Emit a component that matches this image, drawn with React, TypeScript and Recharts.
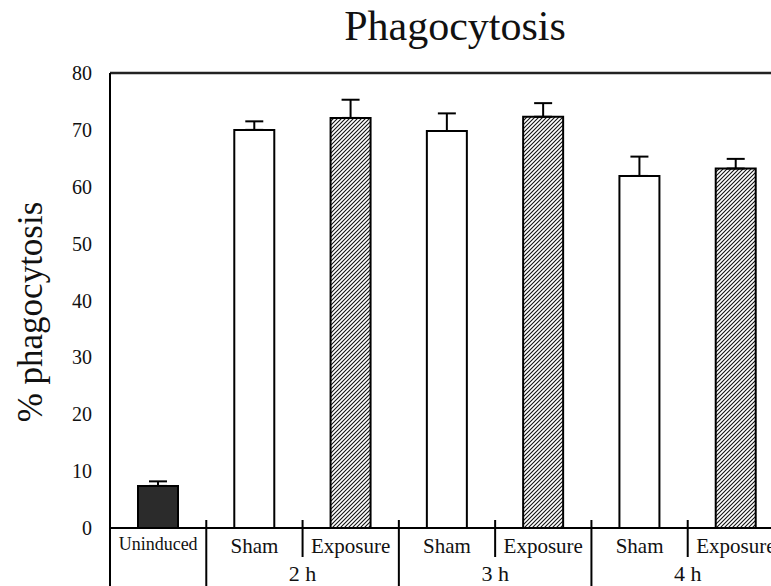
import React from 'react'
import { BarChart, Bar, XAxis, YAxis, Cell, ErrorBar, ReferenceLine } from 'recharts'

const labels = ['Uninduced', 'Sham', 'Exposure', 'Sham', 'Exposure', 'Sham', 'Exposure']
const values = [7.4, 70.0, 72.1, 69.8, 72.3, 61.9, 63.2]
const errors = [0.8, 1.5, 3.2, 3.1, 2.4, 3.4, 1.7]
const groupLabels = ['2 h', '3 h', '4 h']
const yTicks = [0, 10, 20, 30, 40, 50, 60, 70, 80]

const W = 800
const H = 586
const M = { top: 73, right: 16, left: 0, bottom: 0 }
const Y_W = 110
const X_H = 58
const FONT = "'Liberation Serif', 'Times New Roman', serif"

const data = labels.map((label, i) => ({
  id: i,
  label,
  value: values[i],
  err: [0, errors[i]],
}))

const bandW = (W - M.left - M.right - Y_W) / labels.length

function fillFor(label: string) {
  if (label === 'Uninduced') return '#2b2b2b'
  if (label === 'Exposure') return 'url(#hatch)'
  return '#ffffff'
}

function CategoryTick(props: any) {
  const { x, y, payload } = props
  const i = payload.index ?? payload.value
  const label = labels[i]
  const right = x + bandW / 2
  const left = x - bandW / 2
  const tall = label !== 'Sham'
  return (
    <g>
      {i === 0 && <line x1={left} x2={left} y1={y} y2={y + 70} stroke="#000" strokeWidth={2} />}
      <line x1={right} x2={right} y1={y - 8} y2={tall ? y + 70 : y + 29} stroke="#000" strokeWidth={2} />
      <text
        x={x}
        y={y}
        dy={label === 'Uninduced' ? 22 : 25}
        textAnchor="middle"
        style={{ fontFamily: FONT, fontSize: label === 'Uninduced' ? 18 : 21 }}
        fill="#111"
      >
        {label}
      </text>
      {label === 'Exposure' && (
        <text x={left} y={y} dy={53} textAnchor="middle" style={{ fontFamily: FONT, fontSize: 22 }} fill="#111">
          {groupLabels[(i - 2) / 2]}
        </text>
      )}
    </g>
  )
}

function YTitle() {
  const cx = 42
  const cy = 312
  return (
    <text
      x={cx}
      y={cy}
      transform={`rotate(-90, ${cx}, ${cy})`}
      textAnchor="middle"
      style={{ fontFamily: FONT, fontSize: 35 }}
      fill="#111"
    >
      % phagocytosis
    </text>
  )
}

export default function App() {
  return (
    <div
      style={{
        position: 'fixed',
        left: 0,
        top: 0,
        width: 771,
        height: 586,
        overflow: 'hidden',
        background: '#fff',
        fontFamily: FONT,
      }}
    >
      <svg width={0} height={0} style={{ position: 'absolute' }}>
        <defs>
          <pattern id="hatch" patternUnits="userSpaceOnUse" width={4} height={4}>
            <rect width={4} height={4} fill="#fff" />
            <path d="M-1,1 l2,-2 M0,4 l4,-4 M3,5 l2,-2" stroke="#111" strokeWidth={1.1} />
          </pattern>
        </defs>
      </svg>
      <div
        style={{
          position: 'absolute',
          left: 455 - 200,
          width: 400,
          top: 0,
          textAlign: 'center',
          fontSize: 42,
          lineHeight: '52px',
          color: '#111',
        }}
      >
        Phagocytosis
      </div>
      <BarChart width={W} height={H} data={data} margin={M} barSize={40} style={{ fontFamily: FONT }}>
        <XAxis
          dataKey="id"
          height={X_H}
          interval={0}
          tickLine={false}
          tickSize={0}
          tickMargin={0}
          axisLine={{ stroke: '#000', strokeWidth: 2 }}
          tick={<CategoryTick />}
        />
        <YAxis
          width={Y_W}
          domain={[0, 80]}
          ticks={yTicks}
          interval={0}
          tickLine={false}
          tickSize={0}
          tickMargin={18}
          axisLine={{ stroke: '#000', strokeWidth: 2 }}
          tick={{ fill: '#111', fontSize: 20, style: { fontFamily: FONT } }}
          label={<YTitle />}
        />
        <ReferenceLine y={80} stroke="#222" strokeWidth={2.5} />
        <Bar dataKey="value" stroke="#000" strokeWidth={2} isAnimationActive={false}>
          {data.map((d) => (
            <Cell key={d.id} fill={fillFor(d.label)} />
          ))}
          <ErrorBar dataKey="err" direction="y" width={9} stroke="#000" strokeWidth={2} />
        </Bar>
      </BarChart>
    </div>
  )
}
